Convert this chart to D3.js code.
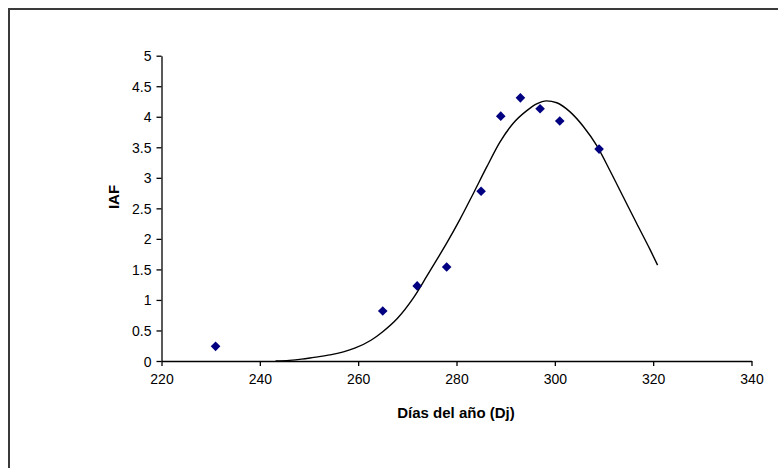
<!DOCTYPE html>
<html>
<head>
<meta charset="utf-8">
<script src="https://cdn.jsdelivr.net/npm/d3@7/dist/d3.min.js"></script>
<style>
  html, body { margin: 0; padding: 0; background: #fff; }
  svg { display: block; }
  text { font-family: "Liberation Sans", Arial, sans-serif; }
</style>
</head>
<body>
<script>
// Observed data (diamonds)
const obsDays = [231, 265, 272, 278, 285, 289, 293, 297, 301, 309];
const obsIAF  = [0.24, 0.82, 1.23, 1.54, 2.78, 4.01, 4.31, 4.13, 3.93, 3.47];

// Fitted curve
const curveDays = [243.2, 246, 248.5, 251, 254.3, 257, 259.3, 262.6, 265, 268, 271.2, 273.9, 276, 278, 280.7, 283.4, 286.1, 288.8, 291.5, 294.3, 296.3, 298.3, 300.4, 303.1, 305.8, 308.5, 311.2, 313.9, 316.6, 319.4, 320.9];
const curveIAF  = [0.0, 0.01, 0.03, 0.06, 0.10, 0.15, 0.21, 0.34, 0.48, 0.70, 1.03, 1.38, 1.66, 1.93, 2.32, 2.74, 3.17, 3.58, 3.89, 4.10, 4.21, 4.26, 4.23, 4.08, 3.84, 3.53, 3.12, 2.69, 2.26, 1.82, 1.57];

const xTicks = [220, 240, 260, 280, 300, 320, 340];
const yTicks = [0, 0.5, 1, 1.5, 2, 2.5, 3, 3.5, 4, 4.5, 5];

const W = 778, H = 468;
const svg = d3.select("body").append("svg").attr("width", W).attr("height", H);

// outer chart frame
svg.append("rect")
  .attr("x", 9).attr("y", 9).attr("width", W + 20).attr("height", H + 20)
  .attr("fill", "none").attr("stroke", "#3a3a3a").attr("stroke-width", 2);

const x = d3.scaleLinear().domain([220, 340]).range([161.5, 751.5]);
const y = d3.scaleLinear().domain([0, 5]).range([361, 55.7]);

const fmt = d => String(d);

const xAxis = svg.append("g").attr("transform", `translate(0,${y(0)})`)
  .call(d3.axisBottom(x).tickValues(xTicks).tickFormat(fmt).tickSize(5).tickPadding(8).tickSizeOuter(0));
const yAxis = svg.append("g").attr("transform", `translate(${x(220)},0)`)
  .call(d3.axisLeft(y).tickValues(yTicks).tickFormat(fmt).tickSize(5).tickPadding(5).tickSizeOuter(0));

[xAxis, yAxis].forEach(g => {
  g.select(".domain").attr("stroke", "#000").attr("stroke-width", 1.3);
  g.selectAll(".tick line").attr("stroke", "#000").attr("stroke-width", 1.3);
  g.selectAll(".tick text").attr("fill", "#000").style("font-size", "14px")
    .style("font-family", "'Liberation Sans', Arial, sans-serif");
});
yAxis.selectAll(".tick text").attr("dy", "0.36em");

// fitted curve
const line = d3.line().x((d, i) => x(curveDays[i])).y((d, i) => y(curveIAF[i])).curve(d3.curveMonotoneX);
svg.append("path").datum(curveDays)
  .attr("d", line).attr("fill", "none").attr("stroke", "#000").attr("stroke-width", 1.4);

// diamonds
const r = 4.8;
svg.append("g").selectAll("path").data(obsDays).join("path")
  .attr("transform", (d, i) => `translate(${x(d)},${y(obsIAF[i])})`)
  .attr("d", `M0,${-r}L${r},0L0,${r}L${-r},0Z`)
  .attr("fill", "#000080");

// axis titles
svg.append("text").attr("x", 456).attr("y", 418).attr("text-anchor", "middle")
  .style("font-size", "15px").style("font-weight", "bold").attr("fill", "#000")
  .text("Días del año (Dj)");
svg.append("text").attr("transform", "translate(119,197) rotate(-90)").attr("text-anchor", "middle")
  .style("font-size", "15px").style("font-weight", "bold").attr("fill", "#000")
  .text("IAF");
</script>
</body>
</html>
